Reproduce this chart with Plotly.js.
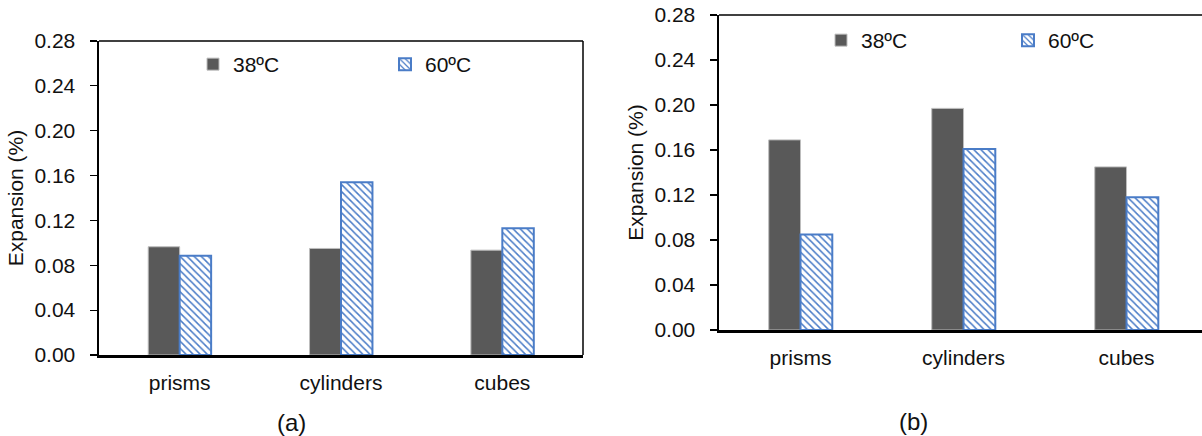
<!DOCTYPE html>
<html>
<head>
<meta charset="utf-8">
<script src="https://cdn.plot.ly/plotly-3.0.1.min.js"></script>
<style>html,body{margin:0;padding:0;background:#fff;}#chart{width:1202px;height:436px;}</style>
</head>
<body>
<div id="chart"></div>
<script>
// ---- data ----
const categories = ["prisms", "cylinders", "cubes"];
const seriesNames = ["38ºC", "60ºC"];
const panelA_38 = [0.0965, 0.095, 0.0935];
const panelA_60 = [0.0885, 0.154, 0.113];
const panelB_38 = [0.169, 0.197, 0.145];
const panelB_60 = [0.085, 0.161, 0.118];
const yTickVals = [0, 0.04, 0.08, 0.12, 0.16, 0.20, 0.24, 0.28];
const yTickText = ["0.00", "0.04", "0.08", "0.12", "0.16", "0.20", "0.24", "0.28"];
const yTitle = "Expansion (%)";
const panelLabels = ["(a)", "(b)"];

// ---- styles ----
const W = 1202, H = 436;
const FONT = "Liberation Sans, Arial, sans-serif";
const TXT = "#111";
const DARK = "#595959";
const BLUE = "#4a7cc7";
const FS = 21;

function solidBar(y, xa, ya, lg, show) {
  return {type: "bar", x: categories, y: y, name: seriesNames[0], xaxis: xa, yaxis: ya,
    legend: lg, showlegend: show,
    marker: {color: DARK, line: {color: "#bdbdbd", width: 1}}, hoverinfo: "y"};
}
function hatchBar(y, xa, ya, lg, show) {
  return {type: "bar", x: categories, y: y, name: seriesNames[1], xaxis: xa, yaxis: ya,
    legend: lg, showlegend: show,
    marker: {color: "#ffffff", line: {color: BLUE, width: 2},
      pattern: {shape: "\\", fgcolor: BLUE, bgcolor: "#ffffff", size: 5, solidity: 0.3}},
    hoverinfo: "y"};
}

const data = [
  solidBar(panelA_38, "x", "y", "legend", true),
  hatchBar(panelA_60, "x", "y", "legend", true),
  solidBar(panelB_38, "x2", "y2", "legend2", true),
  hatchBar(panelB_60, "x2", "y2", "legend2", true)
];

const px = v => v / W, py = v => 1 - v / H;

function yax(domain, anchor) {
  return {domain: domain, anchor: anchor, range: [0, 0.28], tickvals: yTickVals, ticktext: yTickText,
    showgrid: false, zeroline: false, showline: true, linecolor: "#000", linewidth: 2.5,
    ticks: "outside", ticklen: 7, tickwidth: 1.2, tickcolor: "#000", ticklabelstandoff: 10,
    tickfont: {family: FONT, size: FS, color: TXT},
    title: {text: yTitle, font: {family: FONT, size: FS, color: TXT}, standoff: 5},
    fixedrange: true};
}
function xax(domain, anchor, range) {
  return {domain: domain, anchor: anchor, range: range, type: "category",
    showgrid: false, zeroline: false, showline: true, linecolor: "#000", linewidth: 2.5,
    ticks: "", ticklabelstandoff: 7,
    tickfont: {family: FONT, size: FS, color: TXT}, fixedrange: true};
}

const layout = {
  width: W, height: H,
  margin: {l: 0, r: 0, t: 0, b: 0},
  paper_bgcolor: "#fff", plot_bgcolor: "#fff",
  barmode: "group", bargap: 0.61, bargroupgap: 0,
  font: {family: FONT, color: TXT},
  xaxis: xax([px(99), px(583)], "y", [-0.5, 2.5]),
  yaxis: yax([1 - 355 / H, 1 - 41 / H], "x"),
  xaxis2: xax([px(719), 1], "y2", [-0.5, 2.463]),
  yaxis2: yax([1 - 330 / H, 1 - 15 / H], "x2"),
  legend: {orientation: "h", x: px(193), y: py(44), xanchor: "left", yanchor: "top",
    entrywidth: 147, entrywidthmode: "pixels", bgcolor: "rgba(0,0,0,0)",
    font: {family: FONT, size: FS, color: TXT}, traceorder: "normal"},
  legend2: {orientation: "h", x: px(821), y: py(20), xanchor: "left", yanchor: "top",
    entrywidth: 142, entrywidthmode: "pixels", bgcolor: "rgba(0,0,0,0)",
    font: {family: FONT, size: FS, color: TXT}, traceorder: "normal"},
  shapes: [
    {type: "line", xref: "paper", yref: "paper", x0: px(99), x1: px(583), y0: py(41), y1: py(41), line: {color: "#000", width: 1.5}},
    {type: "line", xref: "paper", yref: "paper", x0: px(583), x1: px(583), y0: py(41), y1: py(355), line: {color: "#000", width: 1.5}},
    {type: "line", xref: "paper", yref: "paper", x0: px(719), x1: 1, y0: py(15), y1: py(15), line: {color: "#000", width: 1.5}}
  ],
  annotations: [
    {text: panelLabels[0], xref: "paper", yref: "paper", x: px(291), y: py(422), xanchor: "center", yanchor: "middle",
      showarrow: false, font: {family: FONT, size: 24, color: TXT}},
    {text: panelLabels[1], xref: "paper", yref: "paper", x: px(913), y: py(421), xanchor: "center", yanchor: "middle",
      showarrow: false, font: {family: FONT, size: 24, color: TXT}}
  ]
};

Plotly.newPlot("chart", data, layout, {displayModeBar: false, staticPlot: true});
</script>
</body>
</html>
